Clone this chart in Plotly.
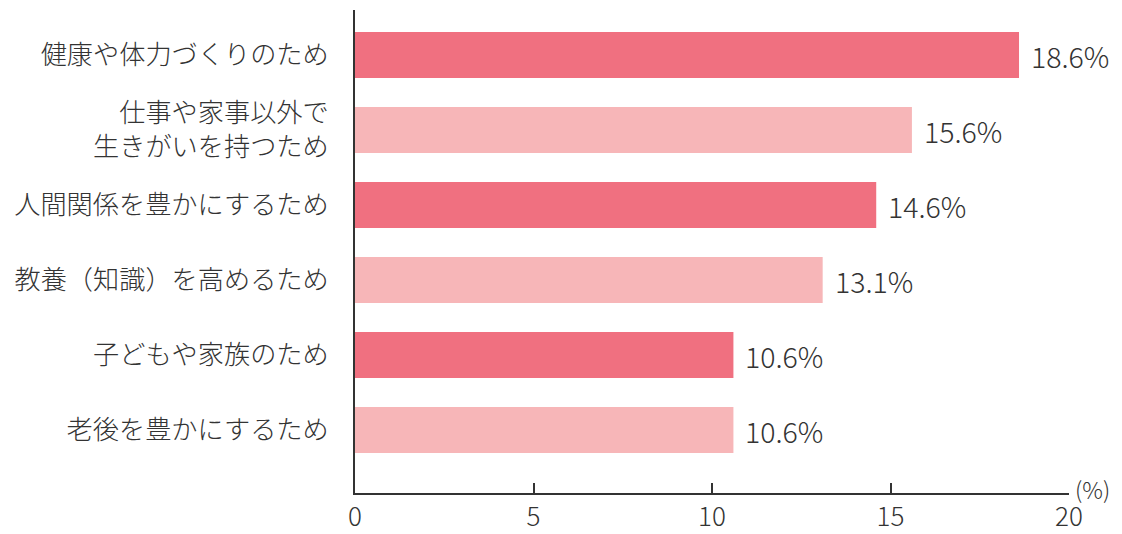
import plotly.graph_objects as go

categories = [
    "健康や体力づくりのため",
    "仕事や家事以外で<br>生きがいを持つため",
    "人間関係を豊かにするため",
    "教養（知識）を高めるため",
    "子どもや家族のため",
    "老後を豊かにするため",
]
values = [18.6, 15.6, 14.6, 13.1, 10.6, 10.6]
labels = ["18.6%", "15.6%", "14.6%", "13.1%", "10.6%", "10.6%"]
x_ticks = [0, 5, 10, 15, 20]

DARK = "#F07080"
LIGHT = "#F7B6B8"
colors = [DARK if i % 2 == 0 else LIGHT for i in range(len(categories))]
FONT = "Noto Sans CJK JP"
TXT = "#333333"
W = 300

fig = go.Figure()
fig.add_trace(go.Bar(
    x=values, y=categories, orientation="h",
    marker=dict(color=colors, line=dict(width=0)),
    hoverinfo="skip",
))

for c, v, t in zip(categories, values, labels):
    fig.add_annotation(x=v, y=c, text=t, showarrow=False,
                       xanchor="left", yanchor="middle", xshift=10,
                       font=dict(family=FONT, size=28.5, color=TXT, weight=W))

fig.add_annotation(x=1, y=0, xref="paper", yref="paper", text="(%)",
                   showarrow=False, xanchor="left", yanchor="middle",
                   xshift=4, yshift=4,
                   font=dict(family=FONT, size=23, color=TXT, weight=W))

fig.update_layout(
    width=1122, height=534,
    margin=dict(l=355, r=53, t=10, b=41),
    paper_bgcolor="white", plot_bgcolor="white",
    bargap=0.387,
    showlegend=False,
    font=dict(family=FONT, color=TXT, weight=W),
)
fig.update_xaxes(
    range=[0, 20], tickvals=x_ticks, ticktext=[str(v) for v in x_ticks],
    showgrid=False, zeroline=False, automargin=False,
    showline=True, linecolor="#333333", linewidth=2,
    ticks="inside", ticklen=10, tickwidth=1.5, tickcolor="#333333",
    tickfont=dict(family=FONT, size=26, color=TXT, weight=W),
    fixedrange=True,
)
fig.update_yaxes(
    type="category", categoryorder="array", categoryarray=categories,
    range=[5.84, -0.6],
    showgrid=False, zeroline=False, automargin=False,
    showline=True, linecolor="#333333", linewidth=2,
    ticks="", ticklabelstandoff=19,
    tickfont=dict(family=FONT, size=26.2, color=TXT, weight=W),
    fixedrange=True,
)

fig.write_html("out.html", config={"displayModeBar": False})
